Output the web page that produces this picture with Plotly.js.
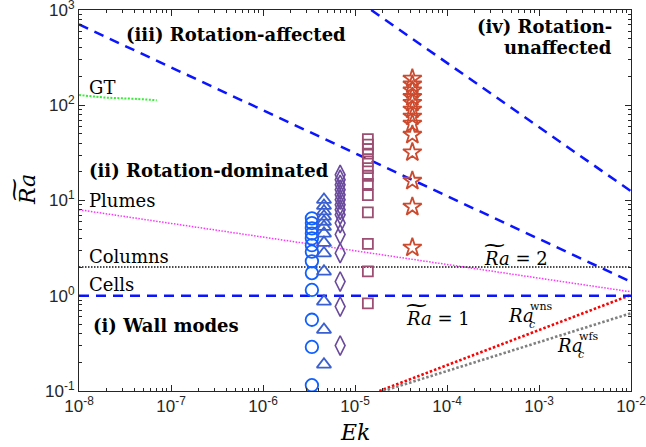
<!DOCTYPE html>
<html><head><meta charset="utf-8">
<script src="https://cdn.plot.ly/plotly-3.0.1.min.js"></script>
<style>html,body{margin:0;padding:0;background:#fff}</style>
</head><body><div id="plot" style="width:646px;height:447px"></div>
<script>
// ---- data ----
const ekCircles = 3.4e-6;
const raCircles = [6.5, 5.8, 5.1, 4.5, 4.0, 3.4, 2.9, 2.3, 1.73, 1.15, 0.56, 0.29, 0.115];
const ekTriangles = 4.6e-6;
const raTriangles = [10.2, 8.8, 7.7, 6.8, 6.0, 5.3, 4.5, 3.6, 2.8, 1.8, 0.87, 0.44, 0.19];
const ekDiamonds = 6.9e-6;
const raDiamonds = [18.6, 16.5, 14.6, 13.0, 11.5, 10.2, 9.0, 8.0, 7.1, 5.8, 4.4, 2.8, 1.41, 0.77, 0.30];
const ekSquares = 1.38e-5;
const raSquares = [44, 38.6, 34.7, 31.0, 25.7, 21.9, 18.2, 14.9, 11.4, 7.5, 3.5, 1.8, 0.83];
const ekStars = 4.2e-5;
const raStars = [190, 165, 143, 122, 106, 90, 76, 64, 49, 32, 16.1, 8.6, 3.2];

const affectedEk = [1e-8, 1e-2],   affectedRa = [705, 1.4];
const unaffectedEk = [1.5e-5, 1e-2], unaffectedRa = [1000, 12.5];
const wallEk = [1e-8, 1e-2],       wallRa = [1, 1];
const columnsEk = [1e-8, 1e-2],    columnsRa = [2, 2];
const plumesEk = [1e-8, 1e-2],     plumesRa = [8.0, 1.1];
const gtEk = [1e-8, 2e-8, 4e-8, 7e-8], gtRa = [128, 120, 117, 113];
const wnsEk = [1.84e-5, 1e-2],     wnsRa = [0.1, 1.02];
const wfsEk = [2.03e-5, 1e-2],     wfsRa = [0.1, 0.655];

const xTickVals = [1e-8, 1e-7, 1e-6, 1e-5, 1e-4, 1e-3, 1e-2];
const xTickText = ['10<sup>-8</sup>', '10<sup>-7</sup>', '10<sup>-6</sup>', '10<sup>-5</sup>',
                   '10<sup>-4</sup>', '10<sup>-3</sup>', '10<sup>-2</sup>'];
const yTickVals = [0.1, 1, 10, 100, 1000];
const yTickText = ['10<sup>-1</sup>', '10<sup>0</sup>', '10<sup>1</sup>', '10<sup>2</sup>', '10<sup>3</sup>'];

// minor tick positions (2..9 within each decade)
function minorTicks(lo, hi) {
  const out = [];
  for (let e = lo; e < hi; e++) for (let m = 2; m <= 9; m++) out.push(m * Math.pow(10, e));
  return out;
}

// ---- traces ----
function line(x, y, color, width, dash) {
  return {x: x, y: y, mode: 'lines', hoverinfo: 'skip',
          line: {color: color, width: width, dash: dash}};
}
function marks(ek, ra, symbol, color, size, lw) {
  return {x: ra.map(() => ek), y: ra, mode: 'markers', hoverinfo: 'skip',
          marker: {symbol: symbol, size: size, color: color,
                   line: {color: color, width: lw}}};
}
const traces = [
  line(gtEk, gtRa, '#33ee33', 2, '2px,1.5px'),
  line(plumesEk, plumesRa, '#ff33ff', 1.5, '1.5px,1.5px'),
  line(columnsEk, columnsRa, '#111111', 1.5, '1.5px,1.5px'),
  line(wnsEk, wnsRa, '#ff0000', 2.6, '2.5px,2px'),
  line(wfsEk, wfsRa, '#808080', 2.6, '2.5px,2px'),
  line(affectedEk, affectedRa, '#0a14ff', 2.5, '10px,7px'),
  line(unaffectedEk, unaffectedRa, '#0a14ff', 2.5, '10px,7px'),
  line(wallEk, wallRa, '#0a14ff', 2.5, '10px,7px'),
  marks(ekCircles, raCircles, 'circle-open', '#1060ff', 12.5, 1.8),
  marks(ekTriangles, raTriangles, 'triangle-up-open', '#3a5fd0', 12.5, 1.8),
  marks(ekDiamonds, raDiamonds, 'diamond-tall-open', '#6a4a9c', 14, 1.6),
  marks(ekSquares, raSquares, 'square-open', '#9c4f72', 10, 1.8),
  marks(ekStars, raStars, 'star-open', '#cc4a2e', 14, 1.8)
];

// ---- text (positions in pixels converted to paper coords) ----
const L = 79, R = 631, T = 10, B = 391;
const SERIF = 'DejaVu Serif, Liberation Serif, serif';
function A(text, px, py, size, opts) {
  return Object.assign({
    text: text, x: (px - L) / (R - L), y: (B - py) / (B - T),
    xref: 'paper', yref: 'paper', showarrow: false,
    xanchor: 'left', yanchor: 'middle',
    font: {family: SERIF, size: size, color: '#000'}
  }, opts || {});
}
const TILDE = '\u2053';
const annotations = [
  A('<b>(iii) Rotation-affected</b>', 124, 35, 18),
  A('<b>(iv) Rotation-</b>', 614, 27, 18, {xanchor: 'right'}),
  A('<b>unaffected</b>', 614, 48, 18, {xanchor: 'right'}),
  A('<b>(ii) Rotation-dominated</b>', 87, 170, 18),
  A('<b>(i) Wall modes</b>', 91, 325, 18),
  A('GT', 87, 88, 18),
  A('Plumes', 87, 200, 18),
  A('Columns', 87, 256, 18),
  A('Cells', 87, 284, 18),
  A('<i>Ra</i> = 2', 482, 258, 18),
  A(TILDE, 482, 245, 21),
  A('<i>Ra</i> = 1', 404, 318, 18),
  A(TILDE, 404, 305, 21),
  A('<i>Ra</i>', 506, 315, 18),
  A('<i>c</i>', 527, 324, 11),
  A('wns', 528, 306, 11),
  A('<i>Ra</i>', 555, 345, 18),
  A('<i>c</i>', 576, 354, 11),
  A('wfs', 577, 336, 11),
  A('<i>Ek</i>', 355, 432, 22, {xanchor: 'center'}),
  A('<i>Ra</i>', 27, 190, 22, {xanchor: 'center', textangle: -90}),
  A(TILDE, 13, 190, 23, {xanchor: 'center', textangle: -90})
];

const axisCommon = {
  type: 'log', tickmode: 'array', ticklabeloverflow: 'allow',
  ticks: 'inside', ticklen: 6, tickwidth: 1, tickcolor: '#262626',
  showline: true, linecolor: '#262626', linewidth: 1, mirror: 'ticks',
  showgrid: false, zeroline: false,
  tickfont: {family: 'Liberation Sans, Arial, sans-serif', size: 17, color: '#262626'}
};
const minorCommon = {ticks: 'inside', ticklen: 3, tickcolor: '#262626', showgrid: false, tickmode: 'array'};
const layout = {
  width: 646, height: 447,
  margin: {l: L, r: 646 - R, t: T, b: 447 - B},
  paper_bgcolor: '#fff', plot_bgcolor: '#fff',
  showlegend: false,
  xaxis: Object.assign({}, axisCommon, {range: [-8.00001, -1.99999], tickvals: xTickVals, ticktext: xTickText,
    minor: Object.assign({}, minorCommon, {tickvals: minorTicks(-8, -2)})}),
  yaxis: Object.assign({}, axisCommon, {range: [-1.00001, 3.00001], tickvals: yTickVals, ticktext: yTickText,
    minor: Object.assign({}, minorCommon, {tickvals: minorTicks(-1, 3)})}),
  annotations: annotations
};
Plotly.newPlot('plot', traces, layout, {staticPlot: true, displayModeBar: false});
</script>
</body></html>
